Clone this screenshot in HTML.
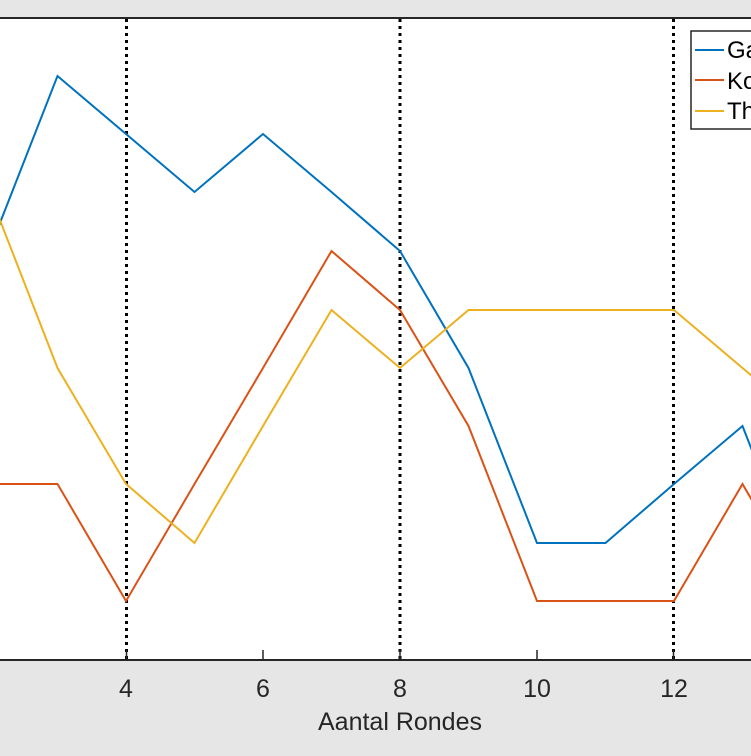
<!DOCTYPE html>
<html><head><style>body{margin:0;background:#e6e6e6}svg{display:block}</style></head><body>
<svg width="751" height="756" xmlns="http://www.w3.org/2000/svg" font-family="Liberation Sans, sans-serif">
<rect x="0" y="0" width="751" height="756" fill="#e6e6e6"/>
<rect x="0" y="18" width="751" height="642" fill="#fff"/>
<g stroke="#000" stroke-width="3" stroke-dasharray="3,4">
<line x1="126.5" y1="19" x2="126.5" y2="659"/>
<line x1="400" y1="19" x2="400" y2="659"/>
<line x1="673.5" y1="19" x2="673.5" y2="659"/>
</g>
<g fill="none" stroke-width="2">
<polyline stroke="#0072bd" points="-11,251 57.5,76 126,134 194.5,192 263,134 331.5,192 400,251 468.5,368 537,543 605.5,543 674,484 742.5,426 811,601"/>
<polyline stroke="#d95319" points="-11,484 57.5,484 126,601 194.5,484 263,368 331.5,251 400,310 468.5,426 537,601 605.5,601 674,601 742.5,484 811,601"/>
<polyline stroke="#edb120" points="-11,192 57.5,368 126,484 194.5,543 263,426 331.5,310 400,368 468.5,310 537,310 605.5,310 674,310 742.5,368 811,426"/>
</g>
<line x1="0" y1="18" x2="751" y2="18" stroke="#262626" stroke-width="2"/>
<line x1="0" y1="660" x2="751" y2="660" stroke="#262626" stroke-width="2"/>
<g stroke="#262626" stroke-width="1.5">
<line x1="263" y1="660" x2="263" y2="650"/><line x1="537" y1="660" x2="537" y2="650"/>
<line x1="126.5" y1="660" x2="126.5" y2="650"/><line x1="400" y1="660" x2="400" y2="650"/><line x1="673.5" y1="660" x2="673.5" y2="650"/>
</g>
<g font-size="25" fill="#262626" text-anchor="middle">
<text x="126" y="697">4</text><text x="263" y="697">6</text><text x="400" y="697">8</text><text x="537" y="697">10</text><text x="674" y="697">12</text>
<text x="400" y="730">Aantal Rondes</text>
</g>
<rect x="691" y="31" width="70" height="98" fill="#fff" stroke="#262626" stroke-width="1.5"/>
<g stroke-width="2"><line x1="695" y1="50" x2="724" y2="50" stroke="#0072bd"/><line x1="695" y1="80" x2="724" y2="80" stroke="#d95319"/><line x1="695" y1="111" x2="724" y2="111" stroke="#edb120"/></g>
<g font-size="24" fill="#000"><text x="727" y="58">Ga</text><text x="727" y="89">Ko</text><text x="727" y="119">Th</text></g>
</svg>
</body></html>
